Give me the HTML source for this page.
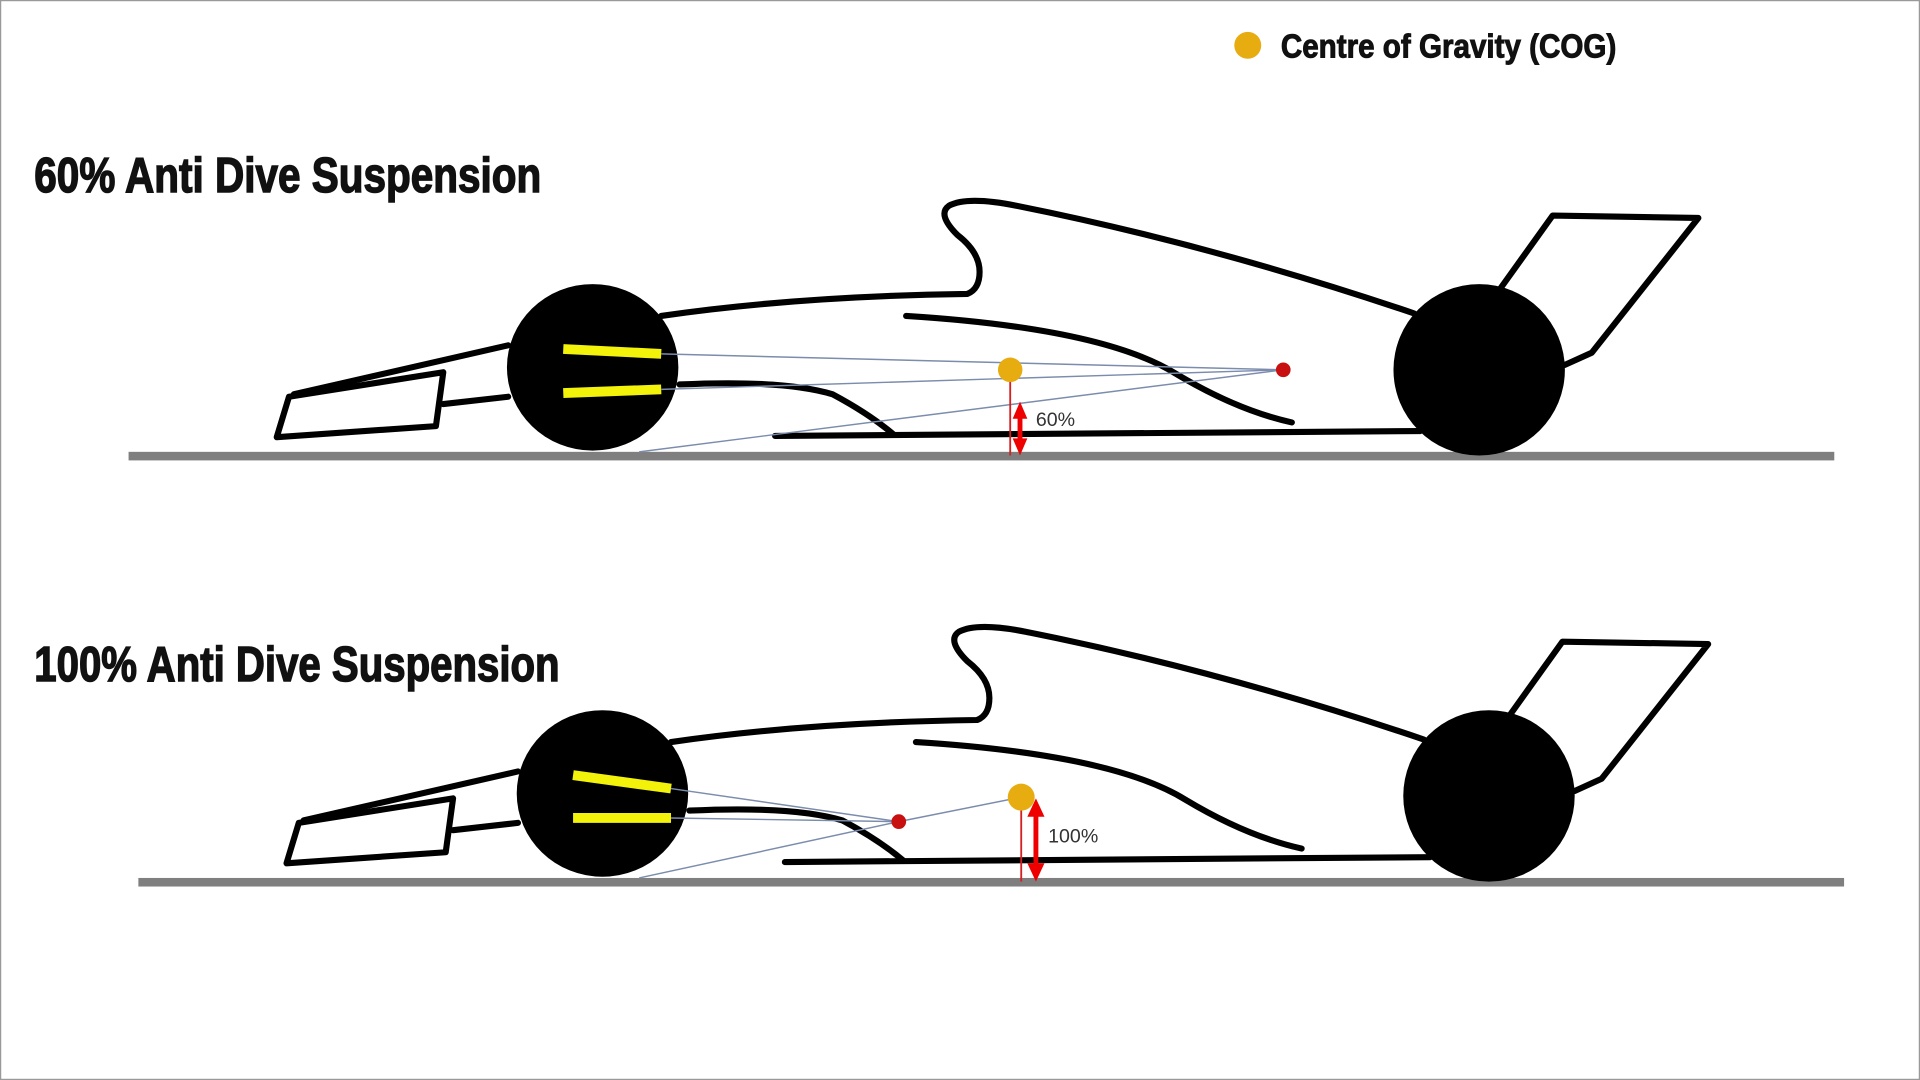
<!DOCTYPE html>
<html><head><style>
html,body{margin:0;padding:0;background:#fff;}
svg{display:block;}
</style></head><body>
<svg width="1920" height="1080" viewBox="0 0 1568 882" xmlns="http://www.w3.org/2000/svg">
<rect x="0.5" y="0.5" width="1567" height="881" fill="#fff" stroke="#999" stroke-width="1"/>
<circle cx="1019" cy="37" r="11" fill="#e6ac10"/>
<text x="1046" y="47" font-family="'Liberation Sans Narrow','Liberation Sans',sans-serif" font-weight="bold" font-size="27" textLength="274" lengthAdjust="spacingAndGlyphs" fill="#111" stroke="#111" stroke-width="0.8">Centre of Gravity (COG)</text>
<text x="28" y="157" font-family="'Liberation Sans Narrow','Liberation Sans',sans-serif" font-weight="bold" font-size="40" textLength="414" lengthAdjust="spacingAndGlyphs" fill="#111" stroke="#111" stroke-width="1.2">60% Anti Dive Suspension</text>
<text x="28" y="556" font-family="'Liberation Sans Narrow','Liberation Sans',sans-serif" font-weight="bold" font-size="40" textLength="429" lengthAdjust="spacingAndGlyphs" fill="#111" stroke="#111" stroke-width="1.2">100% Anti Dive Suspension</text>

<defs>
<g id="car" fill="none" stroke="#000" stroke-width="5" stroke-linejoin="round" stroke-linecap="round">
  <polygon points="226,357 236,324 362,304 356,348"/>
  <path d="M240,322 L415,282"/>
  <path d="M362,330 L415,324"/>
  <path d="M540,258 Q650,242 790,240 Q800,236 800,222 Q800,206 782,192 Q765,175 775,168 Q790,160 830,168 Q990,200 1155,256"/>
  <path d="M740,258 Q900,268 960,305 Q1010,335 1055,345"/>
  <path d="M555,314 Q640,310 680,322 Q710,338 730,355"/>
  <path d="M633,356 L1160,352"/>
  <path d="M1225,236 L1268,176 L1387,178 L1300,288 L1278,298"/>
  <ellipse cx="484" cy="300" rx="70" ry="68" fill="#000" stroke="none"/>
  <ellipse cx="1208" cy="302" rx="70" ry="70" fill="#000" stroke="none"/>
</g>
</defs>

<!-- car 1 -->
<rect x="105" y="369" width="1393" height="7" fill="#7f7f7f"/>
<use href="#car"/>
<line x1="460" y1="285" x2="540" y2="289" stroke="#f2f20a" stroke-width="8"/>
<line x1="460" y1="321" x2="540" y2="318" stroke="#f2f20a" stroke-width="8"/>
<g stroke="#7b8cad" stroke-width="1.2">
<line x1="540" y1="289" x2="1048" y2="302"/>
<line x1="540" y1="318" x2="1048" y2="302"/>
<line x1="522" y1="369" x2="1048" y2="302"/>
</g>
<line x1="825" y1="310" x2="825" y2="372" stroke="#d42020" stroke-width="1.5"/>
<circle cx="825" cy="302" r="10" fill="#e6ac10"/>
<circle cx="1048" cy="302" r="6" fill="#c81010"/>
<line x1="833" y1="340" x2="833" y2="362" stroke="#e00" stroke-width="4"/>
<polygon points="833,328 827,342 839,342" fill="#e00"/>
<polygon points="833,372 827,358 839,358" fill="#e00"/>
<text x="846" y="348" font-family="'Liberation Sans',sans-serif" font-size="16" fill="#333">60%</text>

<!-- car 2 -->
<rect x="113" y="717" width="1393" height="7" fill="#7f7f7f"/>
<use href="#car" transform="translate(8,348)"/>
<line x1="468" y1="633" x2="548" y2="644" stroke="#f2f20a" stroke-width="8"/>
<line x1="468" y1="668" x2="548" y2="668" stroke="#f2f20a" stroke-width="8"/>
<g stroke="#7b8cad" stroke-width="1.2">
<line x1="548" y1="644" x2="734" y2="671"/>
<line x1="548" y1="668" x2="734" y2="671"/>
<line x1="522" y1="717" x2="734" y2="671"/>
<line x1="734" y1="671" x2="834" y2="651"/>
</g>
<line x1="834" y1="660" x2="834" y2="720" stroke="#d42020" stroke-width="1.5"/>
<circle cx="834" cy="651" r="11" fill="#e6ac10"/>
<circle cx="734" cy="671" r="6" fill="#c81010"/>
<line x1="846" y1="665" x2="846" y2="708" stroke="#e00" stroke-width="4"/>
<polygon points="846,652 839,667 853,667" fill="#e00"/>
<polygon points="846,720 839,705 853,705" fill="#e00"/>
<text x="856" y="688" font-family="'Liberation Sans',sans-serif" font-size="16" fill="#333">100%</text>
</svg>
</body></html>
